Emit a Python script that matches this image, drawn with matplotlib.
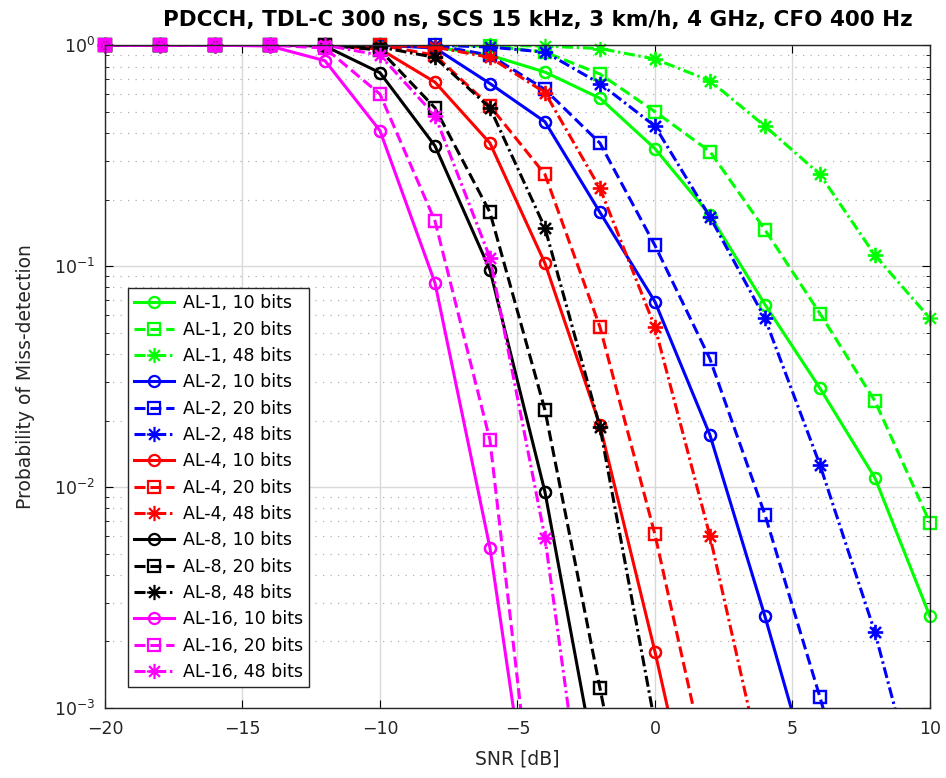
import numpy as np
import matplotlib.pyplot as plt
from matplotlib.path import Path

nan = np.nan

# ---data---
snr = [-20, -18, -16, -14, -12, -10, -8, -6, -4, -2, 0, 2, 4, 6, 8, 10]

al1_10 = [1, 1, 1, 1, 1, 1, 0.98, 0.9, 0.755, 0.575, 0.34, 0.17, 0.067, 0.028, 0.011, 0.0026]
al1_20 = [1, 1, 1, 1, 1, 1, 1, 0.99, 0.93, 0.74, 0.5, 0.33, 0.146, 0.061, 0.0245, 0.0069]
al1_48 = [1, 1, 1, 1, 1, 1, 1, 1, 0.99, 0.965, 0.865, 0.69, 0.43, 0.26, 0.112, 0.058]

al2_10 = [1, 1, 1, 1, 1, 1, 0.97, 0.67, 0.45, 0.175, 0.069, 0.0172, 0.0026, 0.00035, nan, nan]
al2_20 = [1, 1, 1, 1, 1, 1, 1, 0.9, 0.63, 0.36, 0.124, 0.038, 0.0075, 0.00112, 0.00015, nan]
al2_48 = [1, 1, 1, 1, 1, 1, 1, 0.98, 0.93, 0.67, 0.43, 0.167, 0.058, 0.0126, 0.0022, 0.00025]

al4_10 = [1, 1, 1, 1, 1, 0.96, 0.68, 0.36, 0.103, 0.019, 0.0018, 0.00014, nan, nan, nan, nan]
al4_20 = [1, 1, 1, 1, 1, 1, 0.9, 0.53, 0.26, 0.053, 0.0061, 0.00046, nan, nan, nan, nan]
al4_48 = [1, 1, 1, 1, 1, 1, 0.98, 0.88, 0.61, 0.225, 0.053, 0.006, 0.00047, nan, nan, nan]

al8_10 = [1, 1, 1, 1, 0.99, 0.75, 0.35, 0.096, 0.0095, 0.00043, nan, nan, nan, nan, nan, nan]
al8_20 = [1, 1, 1, 1, 1, 0.95, 0.52, 0.175, 0.0223, 0.00123, 0.00007, nan, nan, nan, nan, nan]
al8_48 = [1, 1, 1, 1, 1, 0.98, 0.88, 0.52, 0.149, 0.0187, 0.00085, nan, nan, nan, nan, nan]

al16_10 = [1, 1, 1, 0.99, 0.85, 0.41, 0.084, 0.0053, 0.000105, nan, nan, nan, nan, nan, nan, nan]
al16_20 = [1, 1, 1, 1, 0.97, 0.6, 0.16, 0.0163, 0.00011, nan, nan, nan, nan, nan, nan, nan]
al16_48 = [1, 1, 1, 1, 1, 0.9, 0.48, 0.109, 0.0059, 0.00009, nan, nan, nan, nan, nan, nan]

series = [
    ('AL-1, 10 bits', al1_10), ('AL-1, 20 bits', al1_20), ('AL-1, 48 bits', al1_48),
    ('AL-2, 10 bits', al2_10), ('AL-2, 20 bits', al2_20), ('AL-2, 48 bits', al2_48),
    ('AL-4, 10 bits', al4_10), ('AL-4, 20 bits', al4_20), ('AL-4, 48 bits', al4_48),
    ('AL-8, 10 bits', al8_10), ('AL-8, 20 bits', al8_20), ('AL-8, 48 bits', al8_48),
    ('AL-16, 10 bits', al16_10), ('AL-16, 20 bits', al16_20), ('AL-16, 48 bits', al16_48),
]

colors = ['#00ff00', '#0000ff', '#ff0000', '#000000', '#ff00ff']

# matlab-like asterisk: + and x on top of each other
d = 0.7071
asterisk = Path([(-1, 0), (1, 0), (0, -1), (0, 1), (-d, -d), (d, d), (-d, d), (d, -d)],
                [Path.MOVETO, Path.LINETO] * 4)

styles = [('-', 'o', 8), ((0, (3.6, 1.6)), 's', 8), ((0, (3.6, 1.2, 0.8, 1.2)), asterisk, 11)]

# ---figure---
fig = plt.figure(figsize=(9.46, 7.78), dpi=100)
ax = fig.add_axes([0.111, 0.09, 0.872, 0.852])

x = np.array(snr, dtype=float)
for i, (label, vals) in enumerate(series):
    c = colors[i // 3]
    ls, mk, ms = styles[i % 3]
    y = np.array(vals, dtype=float)
    ax.plot(x, y, linestyle=ls, color=c, linewidth=2.2, marker=mk,
            markersize=ms, markerfacecolor='none', markeredgecolor=c,
            markeredgewidth=1.6, label=label)
    # markers inside the axes drawn unclipped (matlab style)
    ok = (y >= 1e-3) & (y <= 1.0)
    ax.plot(x[ok], y[ok], linestyle='none', marker=mk,
            markersize=ms, markerfacecolor='none', markeredgecolor=c,
            markeredgewidth=1.6, clip_on=False)

ax.set_yscale('log')
ax.set_xlim(-20, 10)
ax.set_ylim(1e-3, 1)
ax.set_xticks([-20, -15, -10, -5, 0, 5, 10])

ax.grid(True, which='major', color='#d9d9d9', linewidth=1.0, linestyle='-')
ax.grid(True, which='minor', axis='y', color='#b0b0b0', linewidth=0.9, linestyle=(0, (1, 5)))
ax.set_axisbelow(True)

ax.tick_params(which='both', direction='in', top=True, right=True, labelsize=12.5,
               labelcolor='#262626')
ax.tick_params(axis='x', which='major', pad=9)
ax.tick_params(axis='y', which='major', pad=7)
ax.tick_params(which='major', length=6)
ax.tick_params(which='minor', length=3)
for s in ax.spines.values():
    s.set_linewidth(1.0)
    s.set_color('#262626')

ax.set_xlabel('SNR [dB]', fontsize=13.5, color='#262626', labelpad=8)
ax.set_ylabel('Probability of Miss-detection', fontsize=13.5, color='#262626', labelpad=14)
ax.set_title('PDCCH, TDL-C 300 ns, SCS 15 kHz, 3 km/h, 4 GHz, CFO 400 Hz',
             fontsize=15.5, fontweight='bold', pad=14, x=0.525)

leg = ax.legend(loc='upper left', bbox_to_anchor=(0.028, 0.633), fontsize=12.5,
                handlelength=2.3, handletextpad=0.5, labelspacing=0.48, borderpad=0.35,
                borderaxespad=0, fancybox=False, framealpha=1, edgecolor='#262626')
leg.get_frame().set_linewidth(1.0)

plt.savefig('out.png', dpi=100)
